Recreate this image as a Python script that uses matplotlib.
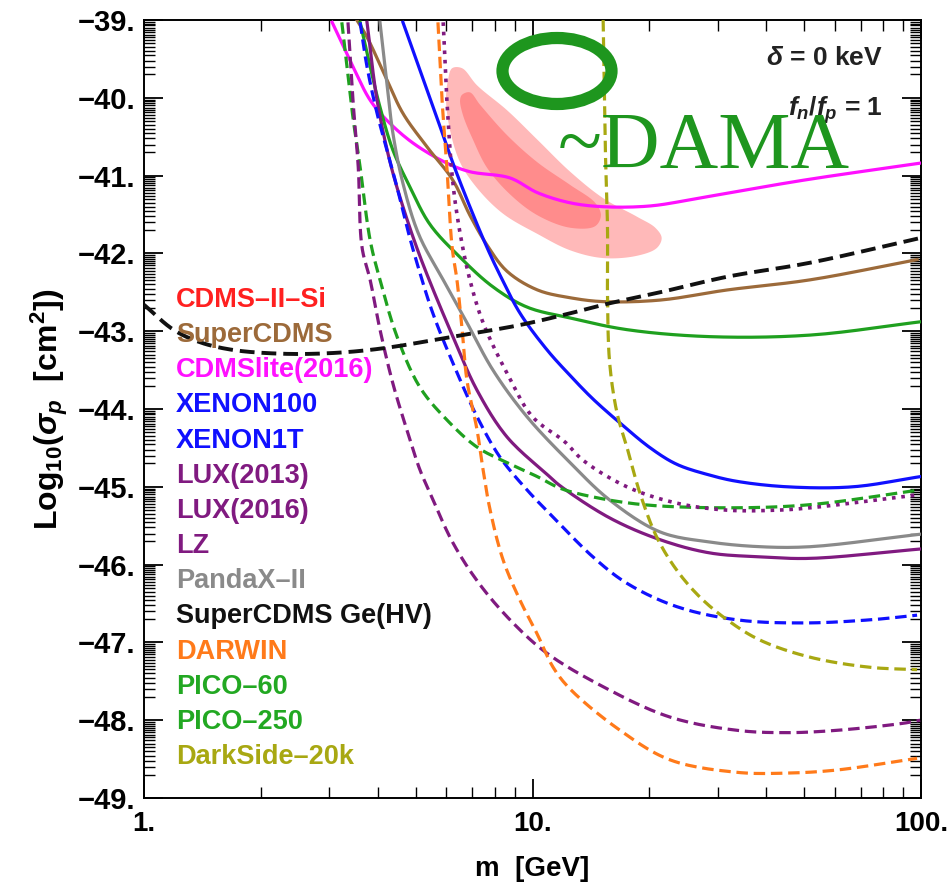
import numpy as np
import matplotlib
matplotlib.use("Agg")
import matplotlib.pyplot as plt
from matplotlib.patches import Ellipse, Polygon
from matplotlib.ticker import FixedLocator, FixedFormatter, NullFormatter

plt.rcParams['font.family'] = ['Liberation Sans', 'DejaVu Sans']
plt.rcParams['font.weight'] = 'bold'
plt.rcParams['mathtext.fontset'] = 'custom'
plt.rcParams['mathtext.rm'] = 'Liberation Sans:bold'
plt.rcParams['mathtext.it'] = 'Liberation Sans:italic:bold'
plt.rcParams['mathtext.bf'] = 'Liberation Sans:bold'

# ---------------- data (mass in GeV, log10 sigma in cm^2) ----------------
cdmslite_m = [3.05, 3.45, 3.82, 4.22, 4.92, 6.02, 6.90, 8.75, 10.3, 12.5, 15.2, 20.1, 27.5, 49.7, 99.5]
cdmslite_s = [-39.03, -39.60, -40.03, -40.29, -40.58, -40.84, -40.95, -41.03, -41.22, -41.35, -41.40, -41.39, -41.28, -41.06, -40.84]

supercdms_m = [3.53, 3.75, 4.22, 4.64, 5.35, 6.24, 6.90, 7.63, 8.60, 10.3, 12.5, 15.2, 21.3, 31.7, 51.8, 97.7]
supercdms_s = [-39.0, -39.22, -39.77, -40.20, -40.63, -41.06, -41.51, -41.89, -42.23, -42.47, -42.57, -42.62, -42.60, -42.47, -42.34, -42.08]

cdmsgehv_m = [1.0, 1.19, 1.39, 1.69, 2.28, 3.07, 4.12, 6.24, 9.29, 12.5, 15.2, 21.3, 31.7, 51.8, 100.0]
cdmsgehv_s = [-42.66, -42.98, -43.14, -43.24, -43.29, -43.28, -43.22, -43.07, -42.92, -42.77, -42.66, -42.50, -42.30, -42.12, -41.80]

pico60_m = [3.60, 3.82, 4.05, 4.37, 4.84, 5.45, 6.51, 7.91, 9.68, 12.5, 17.5, 28.6, 51.8, 99.4]
pico60_s = [-39.03, -39.60, -40.12, -40.67, -41.15, -41.63, -42.05, -42.43, -42.69, -42.83, -42.98, -43.07, -43.05, -42.88]

xenon100_m = [4.64, 5.13, 5.68, 6.24, 6.90, 7.63, 8.25, 9.29, 10.9, 12.5, 14.3, 16.8, 20.1, 23.5, 28.6, 33.6, 45.2, 66.8, 99.4]
xenon100_s = [-39.03, -39.64, -40.26, -40.84, -41.40, -41.92, -42.28, -42.77, -43.24, -43.57, -43.87, -44.18, -44.50, -44.71, -44.85, -44.93, -45.00, -45.00, -44.87]

xenon1t_m = [3.60, 3.75, 3.98, 4.22, 4.48, 4.75, 5.04, 5.54, 6.24, 7.20, 8.25, 9.68, 11.3, 14.3, 17.5, 23.5, 33.6, 49.7, 73.9, 97.7]
xenon1t_s = [-39.03, -39.60, -40.20, -40.67, -41.15, -41.66, -42.12, -42.77, -43.41, -44.10, -44.62, -45.04, -45.39, -45.90, -46.24, -46.54, -46.71, -46.75, -46.71, -46.65]

pico250_m = [3.23, 3.33, 3.45, 3.60, 3.82, 4.05, 4.48, 5.13, 6.02, 7.20, 8.60, 10.3, 11.8, 14.3, 19.3, 31.7, 51.8, 99.4]
pico250_s = [-39.03, -39.60, -40.25, -40.89, -41.83, -42.34, -43.07, -43.72, -44.14, -44.49, -44.69, -44.87, -45.02, -45.13, -45.23, -45.27, -45.23, -45.04]

lz_m = [3.35, 3.45, 3.56, 3.64, 3.82, 4.05, 4.37, 4.75, 5.13, 5.45, 6.24, 7.33, 8.91, 10.9, 15.2, 22.6, 33.6, 45.2, 60.8, 89.9, 99.5]
lz_s = [-39.03, -40.03, -40.89, -41.92, -42.34, -42.98, -43.67, -44.27, -44.78, -45.08, -45.72, -46.26, -46.75, -47.14, -47.57, -47.96, -48.13, -48.16, -48.13, -48.04, -48.00]

lux2016_m = [3.75, 3.98, 4.30, 4.64, 5.04, 5.45, 6.24, 7.20, 8.60, 10.9, 11.8, 15.8, 21.3, 28.6, 38.5, 51.8, 99.4]
lux2016_s = [-39.03, -40.03, -40.83, -41.40, -41.93, -42.37, -43.07, -43.76, -44.36, -44.84, -44.99, -45.40, -45.68, -45.85, -45.90, -45.92, -45.80]

pandax_m = [4.05, 4.22, 4.37, 4.64, 5.10, 5.89, 6.78, 7.91, 9.68, 12.5, 15.8, 21.3, 28.6, 38.5, 51.8, 99.4]
pandax_s = [-39.03, -39.81, -40.45, -41.10, -41.76, -42.34, -42.89, -43.50, -44.10, -44.69, -45.17, -45.58, -45.71, -45.77, -45.77, -45.61]

lux2013_m = [5.89, 6.02, 6.24, 6.51, 6.90, 7.46, 8.60, 10.0, 12.1, 13.5, 17.5, 23.5, 31.7, 42.6, 51.8, 99.4]
lux2013_s = [-39.03, -40.03, -41.10, -41.74, -42.34, -42.89, -43.54, -44.10, -44.42, -44.66, -45.00, -45.21, -45.30, -45.30, -45.27, -45.10]

darwin_m = [5.71, 5.85, 6.02, 6.21, 6.39, 6.59, 6.78, 7.20, 7.46, 7.78, 8.40, 9.29, 10.3, 11.3, 12.5, 16.8, 22.6, 33.6, 45.2, 60.8, 97.7]
darwin_s = [-39.03, -40.03, -40.89, -41.92, -42.34, -42.98, -43.63, -44.27, -44.78, -45.30, -45.94, -46.46, -46.90, -47.32, -47.60, -48.13, -48.51, -48.67, -48.68, -48.64, -48.49]

darkside_m = [15.2, 15.4, 15.6, 15.6, 15.8, 16.5, 17.5, 18.9, 20.9, 23.5, 27.0, 31.7, 38.5, 51.8, 73.9, 97.7]
darkside_s = [-39.0, -40.67, -41.70, -42.56, -43.41, -44.05, -44.49, -45.08, -45.65, -46.07, -46.42, -46.71, -46.97, -47.19, -47.32, -47.35]

# CDMS-II-Si allowed regions (outer and inner contours)
cdmssi_outer_m = [6.06, 6.21, 6.59, 7.20, 8.60, 10.3, 12.5, 15.2, 18.6, 20.7, 21.5, 20.9, 18.6, 15.2, 12.5, 10.3, 8.40, 7.20, 6.51, 6.13, 5.99]
cdmssi_outer_s = [-39.77, -39.62, -39.62, -39.84, -40.16, -40.54, -40.95, -41.29, -41.53, -41.67, -41.80, -41.93, -42.03, -42.06, -41.96, -41.75, -41.49, -41.16, -40.83, -40.41, -40.03]
cdmssi_inner_m = [6.59, 6.90, 7.33, 8.60, 10.3, 12.5, 14.5, 15.0, 14.5, 12.5, 10.3, 8.75, 7.64, 7.03, 6.62, 6.51]
cdmssi_inner_s = [-39.96, -39.93, -40.09, -40.48, -40.83, -41.12, -41.35, -41.51, -41.65, -41.67, -41.51, -41.24, -40.90, -40.54, -40.22, -40.03]

legend_labels = ["CDMS\u2013II\u2013Si", "SuperCDMS", "CDMSlite(2016)", "XENON100", "XENON1T",
                 "LUX(2013)", "LUX(2016)", "LZ", "PandaX\u2013II", "SuperCDMS Ge(HV)",
                 "DARWIN", "PICO\u201360", "PICO\u2013250", "DarkSide\u201320k"]
legend_colors = ["#ff2020", "#9c6a3a", "#ff10ff", "#1010ff", "#1010ff",
                 "#801a80", "#801a80", "#801a80", "#8a8a8a", "#111111",
                 "#ff7a1a", "#22a822", "#22a822", "#a8a812"]

y_ticks = [-49, -48, -47, -46, -45, -44, -43, -42, -41, -40, -39]
x_ticks = [1, 10, 100]

# ---------------- helpers: smooth drawing through the read points ----------------
SX, SY = 388.5, 77.8   # pixel-like scaling for the parametrisation

def _cr(P, n=14, closed=False):
    P = np.asarray(P, float)
    if closed:
        P = np.vstack([P[-1], P, P[0], P[1]])
    else:
        P = np.vstack([2 * P[0] - P[1], P, 2 * P[-1] - P[-2]])
    out = []
    for i in range(1, len(P) - 2):
        p0, p1, p2, p3 = P[i - 1], P[i], P[i + 1], P[i + 2]
        d01 = max(np.linalg.norm(p1 - p0), 1e-6) ** 0.5
        d12 = max(np.linalg.norm(p2 - p1), 1e-6) ** 0.5
        d23 = max(np.linalg.norm(p3 - p2), 1e-6) ** 0.5
        t0, t1 = 0.0, d01
        t2 = t1 + d12
        t3 = t2 + d23
        t = np.linspace(t1, t2, n, endpoint=False)[:, None]
        A1 = (t1 - t) / (t1 - t0) * p0 + (t - t0) / (t1 - t0) * p1
        A2 = (t2 - t) / (t2 - t1) * p1 + (t - t1) / (t2 - t1) * p2
        A3 = (t3 - t) / (t3 - t2) * p2 + (t - t2) / (t3 - t2) * p3
        B1 = (t2 - t) / (t2 - t0) * A1 + (t - t0) / (t2 - t0) * A2
        B2 = (t3 - t) / (t3 - t1) * A2 + (t - t1) / (t3 - t1) * A3
        C = (t2 - t) / (t2 - t1) * B1 + (t - t1) / (t2 - t1) * B2
        out.append(C)
    out.append(P[-2][None, :])
    return np.vstack(out)

def smooth(m, s, closed=False):
    P = np.column_stack([np.log10(m) * SX, np.asarray(s) * SY])
    C = _cr(P, closed=closed)
    return 10 ** (C[:, 0] / SX), C[:, 1] / SY

# ---------------- figure ----------------
fig = plt.figure(figsize=(9.5, 8.88), dpi=100)
ax = fig.add_axes([144/950, 1-798/888, 777/950, 778/888])
ax.set_xscale('log')
ax.set_xlim(1, 100)
ax.set_ylim(-49, -39)

# regions
om, os_ = smooth(cdmssi_outer_m, cdmssi_outer_s, closed=True)
im, is_ = smooth(cdmssi_inner_m, cdmssi_inner_s, closed=True)
ax.add_patch(Polygon(np.column_stack([om, os_]), closed=True,
                     facecolor='#ffb9b9', edgecolor='none', zorder=1))
ax.add_patch(Polygon(np.column_stack([im, is_]), closed=True,
                     facecolor='#ff8c8c', edgecolor='none', zorder=1.1))

LW = 2.3
def draw(m, s, color, dashes=None, lw=LW, z=3):
    xm, ys = smooth(m, s)
    if dashes is None:
        ax.plot(xm, ys, color=color, lw=lw, solid_joinstyle='round', zorder=z)
    else:
        ax.plot(xm, ys, color=color, lw=lw, dashes=dashes, dash_capstyle='butt', zorder=z)

draw(cdmslite_m, cdmslite_s, '#ff10ff')
draw(supercdms_m, supercdms_s, '#9c6a3a')
draw(pico60_m, pico60_s, '#1fa01f')
draw(xenon100_m, xenon100_s, '#1010ff')
draw(lux2016_m, lux2016_s, '#801a80')
draw(pandax_m, pandax_s, '#8a8a8a')
draw(xenon1t_m, xenon1t_s, '#1010ff', (3.6, 1.8))
draw(pico250_m, pico250_s, '#1fa01f', (3.6, 1.8))
draw(lz_m, lz_s, '#801a80', (3.6, 1.8))
draw(darwin_m, darwin_s, '#ff7a1a', (3.6, 1.8))
draw(darkside_m, darkside_s, '#a8a812', (3.6, 1.8))
draw(lux2013_m, lux2013_s, '#801a80', (1.0, 1.6), lw=2.6)
draw(cdmsgehv_m, cdmsgehv_s, '#111111', (3.8, 1.8), lw=2.8, z=4)

# axes styling
for sp in ax.spines.values():
    sp.set_linewidth(1.4)
ax.yaxis.set_major_locator(FixedLocator(y_ticks))
ax.yaxis.set_major_formatter(FixedFormatter(["\u2212%d." % abs(v) for v in y_ticks]))
minor_y = []
for n in y_ticks[1:]:
    for k in np.arange(2.0, 10.0, 0.5):
        minor_y.append(n - 1 + np.log10(k))
ax.yaxis.set_minor_locator(FixedLocator(minor_y))
ax.yaxis.set_minor_formatter(NullFormatter())

ax.xaxis.set_major_locator(FixedLocator(x_ticks))
ax.xaxis.set_major_formatter(FixedFormatter(["%d." % v for v in x_ticks]))
minor_x = [k * d for d in (1, 10) for k in range(2, 10)]
ax.xaxis.set_minor_locator(FixedLocator(minor_x))
ax.xaxis.set_minor_formatter(NullFormatter())

ax.tick_params(which='major', direction='in', top=True, right=True, width=1.3, length=14)
ax.tick_params(which='minor', direction='in', top=True, right=True, width=1.0, length=8)
ax.tick_params(axis='y', which='major', labelsize=21, pad=6)
ax.tick_params(axis='x', which='major', labelsize=20, pad=9)
for lab in ax.get_xticklabels() + ax.get_yticklabels():
    lab.set_fontweight('bold')

ax.set_xlabel("m  [GeV]", fontsize=20, fontweight='bold', labelpad=14)
ax.set_ylabel(r"Log$_{10}$($\sigma_{p}$  [cm$^{2}$])", fontsize=23, fontweight='bold', labelpad=6)

# legend as text
for i, (lab, col) in enumerate(zip(legend_labels, legend_colors)):
    ypix = 300 + i * 35.15
    ax.text((176-144)/777, (798-ypix)/778, lab, color=col, fontsize=19.5, fontweight='bold',
            ha='left', va='center', transform=ax.transAxes, zorder=5)

# annotations
ax.text((883-144)/777, (798-58)/778, r"$\delta$ = 0 keV", fontsize=19, fontweight='bold',
        ha='right', va='center', transform=ax.transAxes, color='#222222', zorder=5)
ax.text((883-144)/777, (798-110)/778, r"$f_{n}/f_{p}$ = 1", fontsize=19, fontweight='bold',
        ha='right', va='center', transform=ax.transAxes, color='#222222', zorder=5)

# DAMA overlay
ax.add_patch(Ellipse(((557-144)/777, (798-71)/778), 109/777, 66/778, transform=ax.transAxes,
                     fill=False, edgecolor='#1e961e', lw=8.8, zorder=6, clip_on=False))
ax.text((558-144)/777, (798-168)/778, "~DAMA", fontsize=58.5, color='#1e961e',
        family=['Liberation Serif', 'DejaVu Serif'], fontweight='normal',
        ha='left', va='baseline', transform=ax.transAxes, zorder=6)

fig.savefig("out.png", dpi=100)
